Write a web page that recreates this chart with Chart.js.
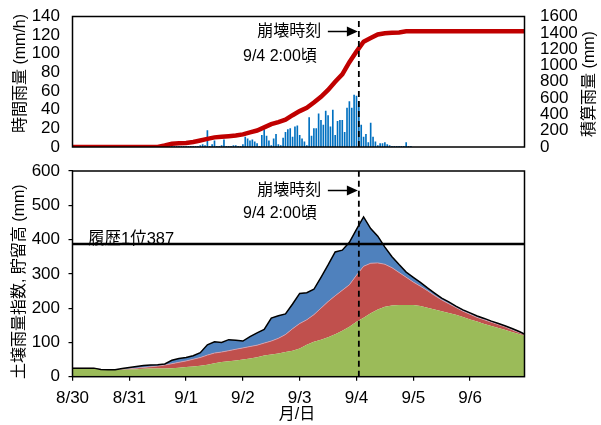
<!DOCTYPE html>
<html lang="ja">
<head>
<meta charset="utf-8">
<title>崩壊時刻と雨量・土壌雨量指数</title>
<script src="https://cdn.jsdelivr.net/npm/chart.js@4/dist/chart.umd.min.js"></script>
<style>
  html, body { margin: 0; padding: 0; background: #fff; }
  #wrap { position: relative; width: 601px; height: 425px; }
  #wrap canvas { position: absolute; left: 0; top: 0; }
</style>
</head>
<body>
<div id="wrap">
  <canvas id="rainChart" width="601" height="425"></canvas>
  <canvas id="soilChart" width="601" height="425"></canvas>
</div>
<script>
// Hourly records: index 0 = 8/30 01:00 ... index 191 = 9/7 00:00
const dayLabels = ['8/30', '8/31', '9/1', '9/2', '9/3', '9/4', '9/5', '9/6'];

// 時間雨量 (mm/h), one value per hour
const hourlyRain = [
  0,0,0,0,0,0,0,0,0,0, 0,0,0,0,0,0,0,0,0,0, 0,0,0,0,0,0,0,0,0,0, 0,0,0,0,0,0,0,0,0,0,
  1,1,2,1,1,1,1,1,1,1,
  1,1,1,1,2,3,2,18,1,3,
  7,1,1,2,8,1,1,1,2,2,
  1,1,3,11,9,7,8,6,4,1,
  13,19,12,7,2,9,14,3,2,10,
  16,19,20,11,22,23,13,9,6,2,
  32,12,20,20,36,29,24,39,34,22,
  40,13,28,29,29,16,42,49,42,56,
  55,49,24,11,14,5,26,11,6,2,
  4,4,5,3,2,1,1,1,1,1,
  1,5,1,1,0,0,0,0,0,0,
  0,0,0,0,0,0,0,0,0,0, 0,0,0,0,0,0,0,0,0,0, 0,0,0,0,0,0,0,0,0,0, 0,0,0,0,0,0,0,0,0,0, 0,0
];

// Slower series are sampled every 3 hours
const sampleStep = 3;

// 積算雨量 (mm)
const cumulativeRain = [
  0,0,0,0,0,0,0,0,0,0,0,0,0,
  18,40,45,50,62,80,100,118,127,133,
  140,155,180,202,240,280,306,335,390,440,
  480,545,615,700,800,890,1040,1170,1290,1335,
  1380,1395,1401,1405,1418,1420,1420,1420,1420,1420,
  1420,1420,1420,1420,1420,1420,1420,1420,1420,1420,
  1420,1420
];

// 貯留高 (mm) of the three tanks
const tank3 = [
  25,25,25,25,21,20,20,20,21,22,
  23,24,24,24,25,26,28,30,32,35,
  39,43,45,47,50,53,57,62,65,68,
  72,76,82,93,102,108,115,124,134,146,
  160,172,185,196,204,208,209,209,209,206,
  201,196,191,186,181,174,167,161,154,148,
  142,136,130,124,118
];
const tank2 = [
  0,0,0,0,0,0,0,1,2,3,
  4,5,7,10,13,16,18,21,24,28,
  30,29,31,33,34,35,35,36,39,44,
  51,64,73,73,79,92,104,112,118,122,
  136,150,146,136,124,110,95,81,67,58,
  50,41,33,27,21,17,15,12,12,11,
  10,9,6,4,2
];
const tank1 = [
  0,0,0,0,0,0,0,3,4,5,
  6,5,4,3,10,11,10,10,14,30,
  33,28,32,26,20,29,36,40,67,66,
  60,72,88,79,74,90,107,128,117,124,
  134,144,101,78,50,32,23,15,14,11,
  8,7,5,5,4,4,4,4,4,3,
  3,3,4,3,1
];

// 土壌雨量指数 (mm)
const soilIndex = [
  25,25,25,25,21,20,20,24,27,30,
  33,34,35,37,48,53,56,61,70,93,
  102,100,108,106,104,117,128,138,171,178,
  183,212,243,245,255,290,326,364,369,392,
  430,466,432,410,378,350,327,305,290,275,
  259,244,229,218,206,195,186,177,170,162,
  155,148,140,131,121
];

const historyMax = 387;
const collapseTime = { day: '9/4', hour: 2 };

const collapseIndex = dayLabels.indexOf(collapseTime.day) * 24 + collapseTime.hour - 1;
const collapseLabel = '崩壊時刻';
const collapseTimeLabel = collapseTime.day + ' ' + collapseTime.hour + ':00頃';
const historyLabel = '履歴1位' + historyMax;

const FONT_FAMILY = '"Liberation Sans", "Noto Sans CJK JP", sans-serif';
const tickFont = { family: FONT_FAMILY, size: 17 };
const plainNumber = v => String(v);

const hourly = arr => arr.map((v, i) => ({ x: i, y: v }));
const sampled = arr => arr.map((v, i) => ({ x: i * sampleStep, y: v }));

// black frame around the plot area
const framePlugin = {
  id: 'frame',
  afterDraw(chart) {
    const { ctx, chartArea: a } = chart;
    ctx.save();
    ctx.strokeStyle = '#000';
    ctx.lineWidth = 1.5;
    ctx.strokeRect(a.left, a.top, a.right - a.left, a.bottom - a.top);
    ctx.restore();
  }
};

// "崩壊時刻 →" note pointing at the dashed line
function collapseNote(off1, off2) {
  return {
    id: 'collapseNote',
    afterDatasetsDraw(chart) {
      const { ctx, chartArea: a, scales } = chart;
      const tip = scales.x.getPixelForValue(collapseIndex) - 1;
      const y1 = a.top + off1, y2 = a.top + off2;
      ctx.save();
      ctx.fillStyle = '#000';
      ctx.strokeStyle = '#000';
      ctx.font = '16px ' + FONT_FAMILY;
      ctx.textAlign = 'right';
      ctx.textBaseline = 'middle';
      ctx.fillText(collapseLabel, tip - 36.5, y1);
      ctx.fillText(collapseTimeLabel, tip - 41, y2);
      ctx.lineWidth = 1.5;
      ctx.beginPath();
      ctx.moveTo(tip - 30, y1);
      ctx.lineTo(tip - 10, y1);
      ctx.stroke();
      ctx.beginPath();
      ctx.moveTo(tip, y1);
      ctx.lineTo(tip - 11, y1 - 5);
      ctx.lineTo(tip - 11, y1 + 5);
      ctx.closePath();
      ctx.fill();
      ctx.restore();
    }
  };
}

// axis titles (vertical ones read bottom-to-top on both sides)
function axisTitles(list) {
  return {
    id: 'axisTitles',
    afterDraw(chart) {
      const ctx = chart.ctx;
      ctx.save();
      ctx.fillStyle = '#000';
      ctx.textAlign = 'center';
      ctx.textBaseline = 'middle';
      list.forEach(t => {
        ctx.save();
        ctx.font = t.size + 'px ' + FONT_FAMILY;
        ctx.translate(t.x, t.y);
        if (t.vertical) ctx.rotate(-Math.PI / 2);
        ctx.fillText(t.text, 0, 0);
        ctx.restore();
      });
      ctx.restore();
    }
  };
}

// label of the record line, drawn under the line itself
const historyLabelPlugin = {
  id: 'historyLabel',
  beforeDatasetsDraw(chart) {
    const { ctx, chartArea: a, scales } = chart;
    const y = scales.y.getPixelForValue(historyMax);
    ctx.save();
    ctx.fillStyle = '#000';
    ctx.font = '16.5px ' + FONT_FAMILY;
    ctx.textAlign = 'left';
    ctx.textBaseline = 'alphabetic';
    ctx.fillText(historyLabel, a.left + 15.5, y - 0.5);
    ctx.restore();
  }
};

const common = {
  responsive: false,
  animation: false,
  devicePixelRatio: 1,
  plugins: { legend: { display: false }, tooltip: { enabled: false } }
};

// ---- upper panel: hourly and cumulative rainfall ----
new Chart(document.getElementById('rainChart'), {
  type: 'bar',
  data: {
    datasets: [
      {
        type: 'line', label: collapseLabel,
        data: [{ x: collapseIndex, y: 0 }, { x: collapseIndex, y: 140 }],
        yAxisID: 'yRain', borderColor: '#000', borderWidth: 1.8, borderDash: [6, 4],
        pointRadius: 0, order: 0
      },
      {
        type: 'line', label: '積算雨量',
        data: sampled(cumulativeRain),
        yAxisID: 'yCum', borderColor: '#C00000', borderWidth: 4.5,
        pointRadius: 0, tension: 0, order: 1
      },
      {
        type: 'bar', label: '時間雨量',
        data: hourly(hourlyRain),
        yAxisID: 'yRain', backgroundColor: '#0070C0',
        barPercentage: 0.7, categoryPercentage: 1, order: 2
      }
    ]
  },
  options: {
    ...common,
    layout: { padding: { top: 16.5, bottom: 278, left: 0, right: 0 }, autoPadding: false },
    scales: {
      x: { type: 'linear', min: 0, max: 191, offset: false, display: false },
      yRain: {
        position: 'left', min: 0, max: 140,
        ticks: { stepSize: 20, autoSkip: false, font: tickFont, color: '#000', padding: 4.5, callback: plainNumber },
        grid: { display: false }, border: { display: false },
        afterFit(s) { s.width = 72.5; }
      },
      yCum: {
        position: 'right', min: 0, max: 1600,
        ticks: { stepSize: 200, autoSkip: false, font: tickFont, color: '#000', padding: 4, callback: plainNumber },
        // invisible tick marks keep the labels clear of the frame
        grid: { display: true, drawOnChartArea: false, drawTicks: true, tickLength: 11.5, color: 'rgba(0,0,0,0)' },
        border: { display: false },
        afterFit(s) { s.width = 76.5; }
      }
    }
  },
  plugins: [
    framePlugin,
    collapseNote(15, 40),
    axisTitles([
      { text: '時間雨量 (mm/h)', x: 20.5, y: 73.5, size: 16, vertical: true },
      { text: '積算雨量 (mm)', x: 590, y: 84, size: 16, vertical: true }
    ])
  ]
});

// ---- lower panel: soil water index and tank storages ----
const noLine = 'rgba(0,0,0,0)';
new Chart(document.getElementById('soilChart'), {
  type: 'line',
  data: {
    datasets: [
      { label: '第3タンク', data: sampled(tank3), stack: 'tank', backgroundColor: '#9BBB59',
        borderColor: noLine, borderWidth: 0.5, fill: 'origin', pointRadius: 0, order: 3 },
      { label: '第2タンク', data: sampled(tank2), stack: 'tank', backgroundColor: '#C0504D',
        borderColor: '#D7A9B9', borderWidth: 0.8, fill: '-1', pointRadius: 0, order: 3 },
      { label: '第1タンク', data: sampled(tank1), stack: 'tank', backgroundColor: '#4F81BD',
        borderColor: noLine, borderWidth: 0.5, fill: '-1', pointRadius: 0, order: 3 },
      { label: '土壌雨量指数', data: sampled(soilIndex), stack: 'soil', borderColor: '#000',
        borderWidth: 1.5, fill: false, pointRadius: 0, order: 2 },
      { label: historyLabel, data: [{ x: 0, y: historyMax }, { x: 191, y: historyMax }], stack: 'hist',
        borderColor: '#000', borderWidth: 2.6, fill: false, pointRadius: 0, order: 1 },
      { label: collapseLabel, data: [{ x: collapseIndex, y: 0 }, { x: collapseIndex, y: 600 }], stack: 'collapse',
        borderColor: '#000', borderWidth: 1.8, borderDash: [6, 4], fill: false, pointRadius: 0, order: 0 }
    ]
  },
  options: {
    ...common,
    layout: { padding: { top: 171, bottom: 0, left: 0, right: 76.5 }, autoPadding: false },
    scales: {
      x: {
        type: 'linear', min: 0, max: 191, offset: false,
        ticks: {
          stepSize: 24, includeBounds: false, autoSkip: false, maxRotation: 0,
          font: tickFont, color: '#000', padding: 7.5,
          callback: v => (v % 24 === 0 ? dayLabels[v / 24] || '' : '')
        },
        grid: { drawOnChartArea: false, drawTicks: true, tickLength: 4, color: '#000', lineWidth: 1.2 },
        border: { display: false },
        afterFit(s) { s.height = 48.3; }
      },
      y: {
        stacked: true, min: 0, max: 600,
        ticks: { stepSize: 100, autoSkip: false, font: tickFont, color: '#000', padding: 8.5, callback: plainNumber },
        grid: { drawOnChartArea: false, drawTicks: true, tickLength: 4, color: '#000', lineWidth: 1.2 },
        border: { display: false },
        afterFit(s) { s.width = 72.5; }
      }
    }
  },
  plugins: [
    historyLabelPlugin,
    framePlugin,
    collapseNote(19.5, 42.3),
    axisTitles([
      { text: '土壌雨量指数, 貯留高 (mm)', x: 20, y: 281.7, size: 16, vertical: true },
      { text: '月/日', x: 297, y: 415, size: 16, vertical: false }
    ])
  ]
});
</script>
</body>
</html>
